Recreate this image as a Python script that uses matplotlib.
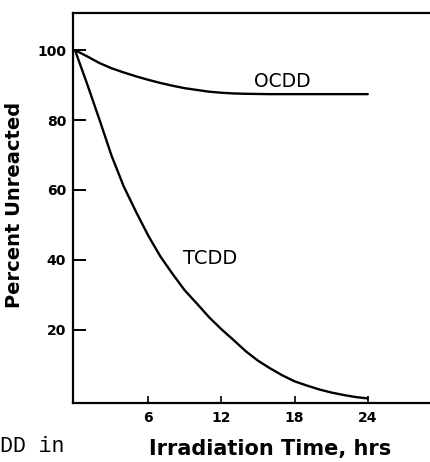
import numpy as np
import matplotlib.pyplot as plt

# values
hours = [0, 1, 2, 3, 4, 5, 6, 7, 8, 9, 10, 11, 12, 13, 14, 15, 16, 17,
         18, 19, 20, 21, 22, 23, 24]
tcdd = [100, 90.3, 80.2, 69.8, 61.0, 53.8, 47.0, 41.0, 36.0, 31.3, 27.5, 23.6,
        20.2, 17.1, 13.9, 11.2, 9.0, 7.0, 5.3, 4.1, 3.0, 2.1, 1.4, 0.8, 0.4]
ocdd_hours = [0, 1, 2, 3, 4, 5, 6, 7, 8, 9, 10, 11, 12, 13, 14, 16, 18, 20, 22, 24]
ocdd = [100, 98.2, 96.3, 94.8, 93.6, 92.5, 91.5, 90.6, 89.8, 89.1, 88.6, 88.1,
        87.8, 87.6, 87.5, 87.4, 87.4, 87.4, 87.4, 87.4]

xticks = [6, 12, 18, 24]
yticks = [20, 40, 60, 80, 100]

fig = plt.figure(figsize=(4.3, 4.62), dpi=100)
ax = fig.add_axes([73 / 430, 1 - 403 / 462, 1 - 73 / 430, (403 - 13) / 462])

ax.plot(hours, tcdd, color='black', lw=1.7, solid_capstyle='round')
ax.plot(ocdd_hours, ocdd, color='black', lw=1.7, solid_capstyle='round')

ax.set_xlim(-0.16, 29.1)
ax.set_ylim(-0.9, 110.6)

for side in ['left', 'bottom', 'top']:
    ax.spines[side].set_linewidth(1.6)
ax.spines['right'].set_visible(False)

ax.set_xticks(xticks)
ax.set_yticks(yticks)
ax.tick_params(axis='y', direction='in', length=9, width=1.4, pad=5,
               labelsize=10)
ax.tick_params(axis='x', direction='in', length=5, width=1.2, pad=6,
               labelsize=10)
for lab in ax.get_xticklabels() + ax.get_yticklabels():
    lab.set_fontweight('bold')

ax.set_ylabel("Percent Unreacted", fontsize=14, fontweight='bold')
ax.yaxis.set_label_coords(-(73 - 24) / 357, (403 - 205) / 390)
ax.set_xlabel("Irradiation Time, hrs", fontsize=15, fontweight='bold',
              va='center')
ax.xaxis.set_label_coords((270 - 73) / 357, -(449 - 403) / 390)

ax.text(14.7, 90.9, "OCDD", fontsize=13.5, ha='left', va='center')
ax.text(8.85, 40.3, "TCDD", fontsize=14, ha='left', va='center')

# fragment of the caption below, cut at the page edge
fig.text(0.5 / 430, 1 - 447 / 462, "DD in", family='Liberation Mono',
         fontsize=15.5, ha='left', va='center')

fig.savefig("out.png", dpi=100)
